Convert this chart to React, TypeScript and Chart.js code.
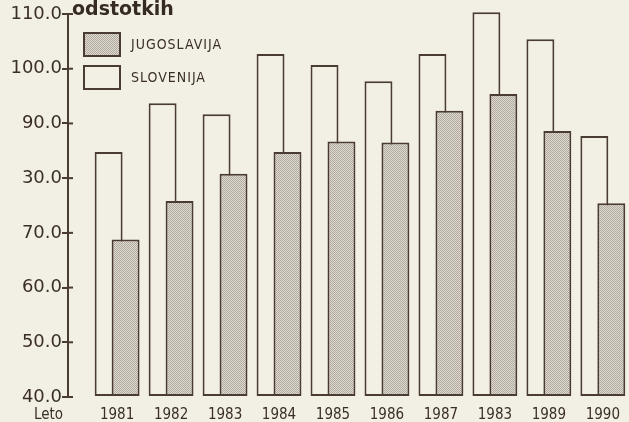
import React, { useEffect, useRef } from 'react';
import { Chart, registerables } from 'chart.js';

Chart.register(...registerables);

// ---- data ----
const years = ['1981', '1982', '1983', '1984', '1985', '1986', '1987', '1983', '1989', '1990'];
const slovenija = [84.8, 93.7, 91.7, 102.7, 100.7, 97.7, 102.7, 110.3, 105.4, 87.7];
const jugoslavija = [68.8, 75.8, 80.8, 84.8, 86.7, 86.5, 92.3, 95.4, 88.6, 75.4];
const yTickValues = [40, 50, 60, 70, 80, 90, 100, 110];
const yTickLabels = ['40.0', '50.0', '60.0', '70.0', '30.0', '90.0', '100.0', '110.0'];
const seriesSlovenija = 'SLOVENIJA';
const seriesJugoslavija = 'JUGOSLAVIJA';
const yAxisTitle = 'odstotkih';
const xAxisTitle = 'Leto';

// ---- styles ----
const PAPER = '#f2f0e5';
const INK = '#4a3b33';
const TEXT = '#3a2e28';
const CONDENSED = "'DejaVu Sans Condensed', 'Liberation Sans Narrow', 'DejaVu Sans', sans-serif";
const SANS = "'DejaVu Sans', sans-serif";

function makeStipple(): CanvasPattern | string {
  const c = document.createElement('canvas');
  c.width = 2;
  c.height = 2;
  const g = c.getContext('2d');
  if (!g) return '#c4c0b7';
  g.fillStyle = '#e0dcd3';
  g.fillRect(0, 0, 2, 2);
  g.fillStyle = '#aea89f';
  g.fillRect(0, 0, 1, 1);
  g.fillRect(1, 1, 1, 1);
  return g.createPattern(c, 'repeat') || '#c4c0b7';
}

const decorPlugin = {
  id: 'decor',
  beforeDatasetDraw(chart: any, args: any) {
    // draw the Jugoslavija bars later so they sit in front of Slovenija bars
    if (args.index === 1) return false;
    return true;
  },
  afterDatasetsDraw(chart: any) {
    const meta = chart.getDatasetMeta(1);
    if (meta && meta.controller) meta.controller.draw();
  },
  afterDraw(chart: any) {
    const ctx = chart.ctx as CanvasRenderingContext2D;
    const area = chart.chartArea;
    const yScale = chart.scales.y;
    const xScale = chart.scales.x;
    ctx.save();

    // inner halves of the y tick marks (ticks cross the axis)
    ctx.strokeStyle = INK;
    ctx.lineWidth = 2;
    yScale.ticks.forEach((t: any) => {
      const py = yScale.getPixelForValue(t.value);
      ctx.beginPath();
      ctx.moveTo(area.left, py);
      ctx.lineTo(area.left + 5, py);
      ctx.stroke();
    });

    // axis title at top
    ctx.fillStyle = '#352a24';
    ctx.font = `bold 19px ${SANS}`;
    ctx.textAlign = 'left';
    ctx.textBaseline = 'alphabetic';
    ctx.fillText(yAxisTitle, area.left + 4, area.top + 1);

    // "Leto" under the y labels, aligned with year labels
    let letoY = area.bottom + 9;
    let letoBaseline: CanvasTextBaseline = 'top';
    try {
      const items = xScale.getLabelItems(area);
      const it = items && items[0];
      const tr = it && it.options && it.options.translation;
      if (tr) {
        letoY = tr[1] + (it.textOffset || 0);
        letoBaseline = it.options.textBaseline || 'top';
      }
    } catch (e) {
      /* keep fallback */
    }
    ctx.font = `15px ${CONDENSED}`;
    ctx.fillStyle = TEXT;
    ctx.textAlign = 'right';
    ctx.textBaseline = letoBaseline;
    ctx.fillText(xAxisTitle, area.left - 5, letoY);

    // legend (Jugoslavija first, then Slovenija)
    const ds = chart.data.datasets;
    const entries = [ds[1], ds[0]];
    const bx = area.left + 15;
    let by = area.top + 18;
    const bw = 38;
    const bh = 25;
    entries.forEach((d: any) => {
      ctx.fillStyle = d.backgroundColor;
      ctx.fillRect(bx, by, bw, bh);
      ctx.strokeStyle = INK;
      ctx.lineWidth = 2;
      ctx.strokeRect(bx + 1, by + 1, bw - 2, bh - 2);
      ctx.fillStyle = TEXT;
      ctx.font = `14px ${CONDENSED}`;
      (ctx as any).letterSpacing = '1px';
      ctx.textAlign = 'left';
      ctx.textBaseline = 'middle';
      ctx.fillText(d.label, bx + bw + 10, by + bh / 2 + 1);
      (ctx as any).letterSpacing = '0px';
      by += 33;
    });
    ctx.restore();
  },
};

export default function App() {
  const ref = useRef<HTMLCanvasElement>(null);

  useEffect(() => {
    const canvas = ref.current;
    if (!canvas) return;
    const stipple = makeStipple();
    const base = yTickValues[0];
    const chart = new Chart(canvas, {
      type: 'bar',
      data: {
        datasets: [
          {
            label: seriesSlovenija,
            data: slovenija.map((v, i) => ({ x: i, y: v })),
            base,
            clip: false,
            backgroundColor: PAPER,
            borderColor: INK,
            borderWidth: 2,
            borderSkipped: false,
            categoryPercentage: 0.6286,
            barPercentage: 1.647,
          },
          {
            label: seriesJugoslavija,
            data: jugoslavija.map((v, i) => ({ x: i, y: v })),
            base,
            clip: false,
            backgroundColor: stipple as any,
            borderColor: INK,
            borderWidth: 2,
            borderSkipped: false,
            categoryPercentage: 0.6286,
            barPercentage: 1.647,
          },
        ],
      },
      options: {
        responsive: false,
        maintainAspectRatio: false,
        animation: false,
        devicePixelRatio: 1,
        layout: { padding: { top: 14, left: 0, right: 0, bottom: 0 } },
        plugins: {
          legend: { display: false },
          title: { display: false },
          tooltip: { enabled: false },
        },
        scales: {
          x: {
            type: 'linear',
            min: -0.91,
            max: 9.46,
            offset: false,
            grid: { display: false, drawTicks: false, offset: false },
            border: { display: false },
            ticks: {
              stepSize: 1,
              includeBounds: false,
              autoSkip: false,
              maxRotation: 0,
              minRotation: 0,
              padding: 9,
              color: TEXT,
              font: { family: CONDENSED, size: 15 },
              callback: (value: any) => {
                const n = Number(value);
                return Number.isInteger(n) && n >= 0 && n < years.length ? years[n] : '';
              },
            },
            afterFit: (s: any) => {
              s.height = 25;
            },
          },
          y: {
            type: 'linear',
            min: yTickValues[0],
            max: yTickValues[yTickValues.length - 1],
            beginAtZero: false,
            grid: {
              display: true,
              drawOnChartArea: false,
              drawTicks: true,
              tickLength: 6,
              color: INK,
              lineWidth: 2,
            },
            border: { display: true, color: INK, width: 2 },
            ticks: {
              stepSize: 10,
              padding: 0,
              color: TEXT,
              font: { family: SANS, size: 18 },
              callback: (value: any) => {
                const idx = yTickValues.indexOf(Number(value));
                return idx >= 0 ? yTickLabels[idx] : '';
              },
            },
            afterFit: (s: any) => {
              s.width = 68;
            },
          },
        },
      },
      plugins: [decorPlugin],
    } as any);
    return () => chart.destroy();
  }, []);

  return (
    <div
      style={{
        position: 'fixed',
        left: 0,
        top: 0,
        width: 629,
        height: 422,
        background: PAPER,
        overflow: 'hidden',
      }}
    >
      <canvas ref={ref} width={629} height={422} style={{ display: 'block', width: 629, height: 422 }} />
    </div>
  );
}
